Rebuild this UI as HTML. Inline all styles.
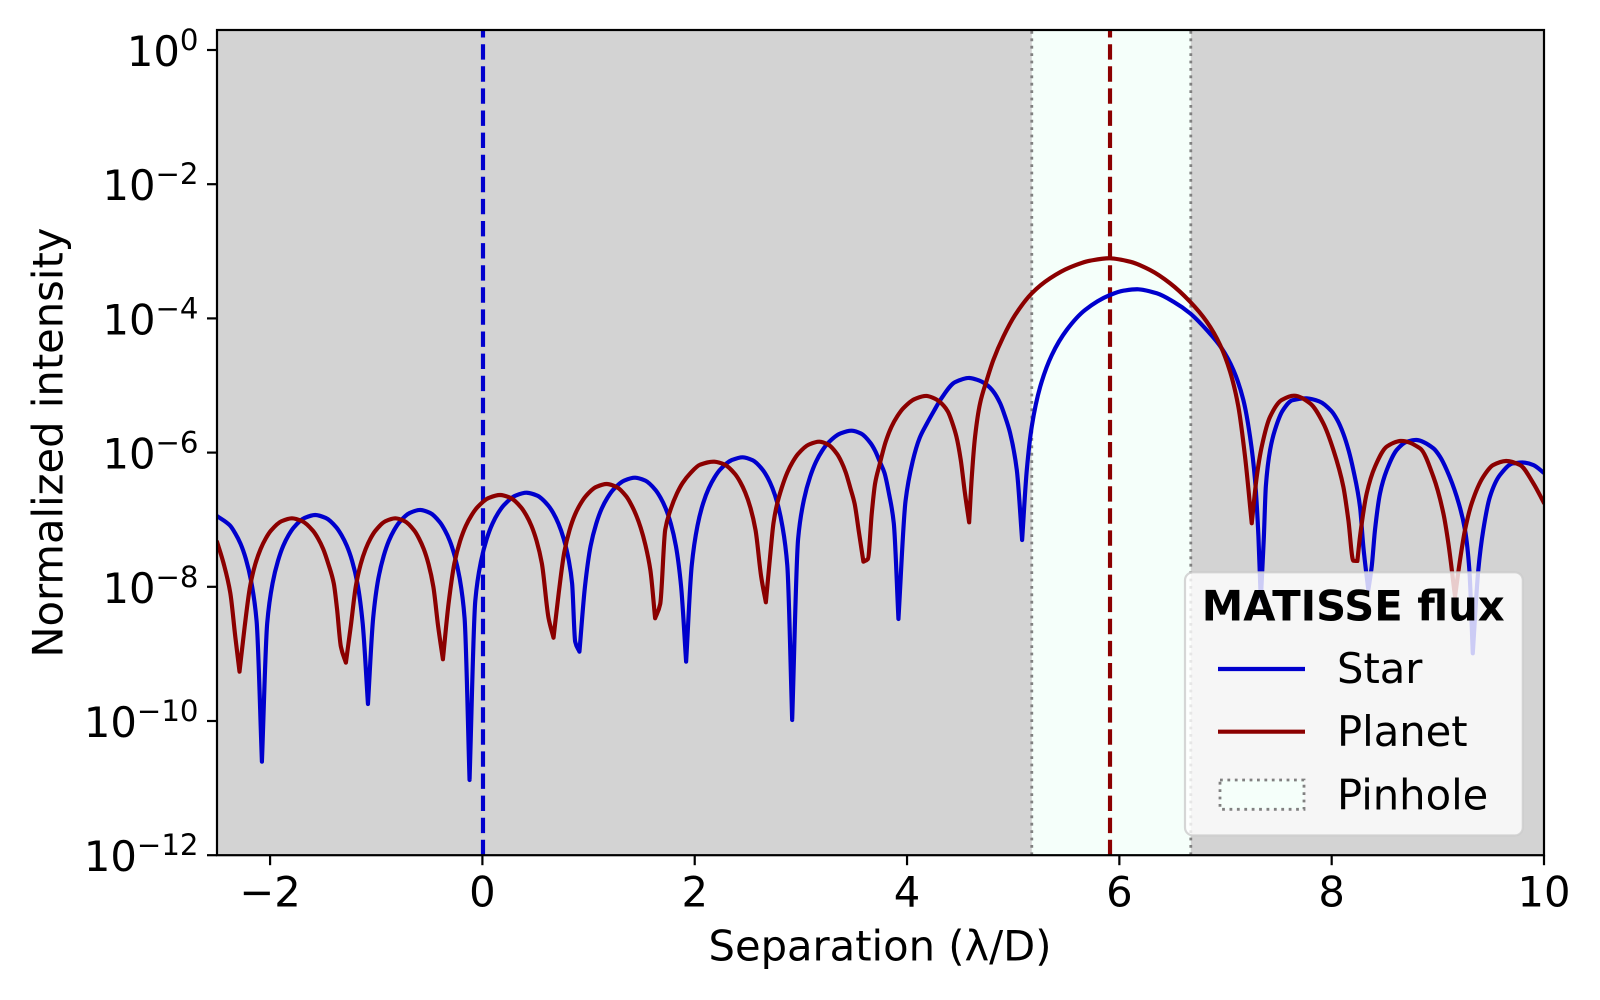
<!DOCTYPE html>
<html lang="en">
<head>
<meta charset="utf-8">
<title>MATISSE flux</title>
<style>
html,body{margin:0;padding:0;background:#fff}
svg{display:block}
text{font-family:"DejaVu Sans","Liberation Sans",sans-serif;fill:#000}
</style>
</head>
<body>
<svg id="chart" xmlns="http://www.w3.org/2000/svg" width="1600" height="1000" viewBox="0 0 1600 1000">
  <defs><clipPath id="plot-clip"><rect x="217" y="30" width="1327" height="825.2"></rect></clipPath></defs>
  <rect x="0" y="0" width="1600" height="1000" fill="#fff"></rect>
  <rect x="217" y="30" width="1327" height="825.2" fill="#d3d3d3"></rect>
  <g id="pinhole-layer" clip-path="url(#plot-clip)"></g>
  <g id="series-layer" clip-path="url(#plot-clip)"></g>
  <g id="axes-layer"></g>
  <text x="880" y="960.7" font-size="41.67" text-anchor="middle">Separation (λ/D)</text>
  <text transform="translate(62.3,442.6) rotate(-90)" font-size="41.67" text-anchor="middle">Normalized intensity</text>
  <g>
    <rect x="1185" y="572.3" width="337.8" height="263.2" rx="8" ry="8" fill="#fff" fill-opacity="0.8" stroke="#ccc" stroke-opacity="0.8" stroke-width="2.2"></rect>
    <text x="1353.2" y="620.7" font-size="41.67" font-weight="bold" text-anchor="middle">MATISSE flux</text>
    <line x1="1218" y1="669" x2="1305" y2="669" stroke="#0000cd" stroke-width="4.17"></line>
    <text x="1337" y="682.9" font-size="41.67">Star</text>
    <line x1="1218" y1="731.7" x2="1305" y2="731.7" stroke="#8b0000" stroke-width="4.17"></line>
    <text x="1337" y="746.2" font-size="41.67">Planet</text>
    <rect x="1220" y="780" width="84" height="29.3" fill="#f5fffa" stroke="#808080" stroke-width="2.8" stroke-dasharray="2.8 4.6"></rect>
    <text x="1337" y="809.4" font-size="41.67">Pinhole</text>
  </g>
</svg>
<script>
var xTicks = [-2, 0, 2, 4, 6, 8, 10];
var xTickLabels = ["\u22122", "0", "2", "4", "6", "8", "10"];
var yTickExponents = [0, -2, -4, -6, -8, -10, -12];
var yTickLabels = ["0", "\u22122", "\u22124", "\u22126", "\u22128", "\u221210", "\u221212"];
var xDomain = [-2.5, 10];
var logYDomain = [-12, 0];
var starPositionX = [0];
var planetPositionX = [5.912];
var pinholeRange = [5.175, 6.673];

var starX = [
  -2.5,-2.379,-2.329,-2.278,-2.228,-2.178,-2.127,-2.077,
  -2.027,-1.977,-1.926,-1.876,-1.826,-1.776,-1.675,-1.575,
  -1.476,-1.376,-1.327,-1.277,-1.227,-1.177,-1.128,-1.078,
  -1.029,-0.98,-0.93,-0.881,-0.832,-0.783,-0.684,-0.586,
  -0.493,-0.4,-0.354,-0.307,-0.261,-0.214,-0.168,-0.121,
  -0.067,-0.013,0.041,0.095,0.149,0.203,0.311,0.419,
  0.518,0.617,0.667,0.716,0.766,0.815,0.845,0.874,0.914,
  0.967,1.019,1.072,1.124,1.177,1.229,1.334,1.439,
  1.535,1.631,1.679,1.727,1.775,1.823,1.871,1.919,
  1.972,2.026,2.079,2.133,2.186,2.239,2.346,2.453,
  2.546,2.639,2.686,2.732,2.779,2.825,2.872,2.918,
  2.974,3.03,3.087,3.143,3.199,3.255,3.368,3.48,
  3.568,3.656,3.7,3.743,3.787,3.831,3.875,3.919,
  3.986,4.053,4.119,4.186,4.253,4.32,4.453,4.587,
  4.686,4.751,4.813,4.877,4.924,4.971,5.034,5.084,
  5.128,5.175,5.254,5.364,5.505,5.677,5.913,6.038,6.179,
  6.352,6.509,6.666,6.823,6.964,7.074,7.168,7.231,7.278,7.31,7.332,
  7.36,7.38,7.42,7.466,7.54,7.63,7.765,
  7.881,7.997,8.055,8.11,8.16,8.204,8.267,8.298,8.345,
  8.377,8.408,8.455,8.519,8.613,8.707,8.801,
  8.958,9.02,9.084,9.178,9.256,9.297,9.329,
  9.381,9.428,9.491,9.585,9.711,9.821,9.9,10
];
var starLogIntensity = [
  -6.945,-7.084,-7.201,-7.36,-7.586,-7.92,-8.51,-10.606,
  -8.54,-7.95,-7.616,-7.39,-7.231,-7.114,-6.974,-6.93,
  -6.974,-7.114,-7.231,-7.39,-7.616,-7.95,-8.54,-9.747,
  -8.465,-7.875,-7.541,-7.315,-7.156,-7.039,-6.899,-6.855,
  -6.899,-7.039,-7.156,-7.315,-7.541,-7.875,-8.465,-10.879,
  -8.208,-7.618,-7.284,-7.058,-6.899,-6.782,-6.642,-6.598,
  -6.642,-6.782,-6.899,-7.058,-7.284,-7.618,-7.95,-8.818,-8.967,
  -7.984,-7.394,-7.06,-6.834,-6.675,-6.558,-6.418,-6.374,
  -6.418,-6.558,-6.675,-6.834,-7.06,-7.394,-7.984,-9.116,
  -7.68,-7.09,-6.756,-6.53,-6.371,-6.254,-6.114,-6.07,
  -6.114,-6.254,-6.371,-6.53,-6.756,-7.09,-7.68,-9.985,
  -7.284,-6.694,-6.36,-6.134,-5.975,-5.858,-5.718,-5.674,
  -5.718,-5.858,-5.975,-6.134,-6.3,-6.62,-7.05,-8.48,
  -6.72,-6.13,-5.78,-5.57,-5.38,-5.2,-4.95,-4.888,
  -4.93,-4.99,-5.09,-5.265,-5.465,-5.71,-6.26,-7.303,
  -6.26,-5.61,-5.02,-4.545,-4.17,-3.875,-3.651,-3.587,-3.566,
  -3.626,-3.751,-3.924,-4.173,-4.446,-4.769,-5.216,-5.763,-6.408,-7.25,-8.2,
  -7.3,-6.5,-5.96,-5.66,-5.37,-5.22,-5.191,
  -5.235,-5.38,-5.52,-5.72,-5.97,-6.26,-6.81,-7.4,-8.048,
  -7.7,-7.153,-6.61,-6.26,-5.96,-5.838,-5.812,
  -5.936,-6.06,-6.26,-6.657,-7.153,-7.75,-8.991,
  -7.75,-7.153,-6.657,-6.334,-6.16,-6.15,-6.185,-6.304
];
var planetX = [
  -2.5,-2.438,-2.375,-2.328,-2.288,
  -2.239,-2.189,-2.14,-2.09,-2.041,-1.992,-1.893,-1.794,
  -1.696,-1.597,-1.548,-1.499,-1.45,-1.4,-1.37,-1.333,-1.286,
  -1.24,-1.193,-1.147,-1.1,-1.054,-1.007,-0.914,-0.821,
  -0.731,-0.641,-0.597,-0.552,-0.507,-0.462,-0.417,-0.372,
  -0.318,-0.264,-0.21,-0.156,-0.102,-0.048,0.06,0.168,
  0.266,0.364,0.413,0.462,0.511,0.56,0.623,0.67,
  0.72,0.771,0.821,0.871,0.922,0.972,1.072,1.173,
  1.264,1.355,1.4,1.445,1.491,1.536,1.582,1.627,1.675,
  1.722,1.768,1.832,1.887,1.957,2.051,2.186,
  2.283,2.38,2.428,2.476,2.525,2.573,2.626,2.67,
  2.71,2.742,2.771,2.82,2.872,2.923,2.973,3.074,3.175,
  3.258,3.341,3.382,3.423,3.465,3.506,3.548,3.589,3.631,
  3.668,3.699,3.742,3.798,3.853,3.909,3.964,4.075,4.186,
  4.266,4.345,4.385,4.425,4.465,4.505,4.545,4.585,
  4.61,4.641,4.688,4.751,4.813,4.908,5.018,5.175,5.348,5.536,5.724,5.913,
  6.101,6.289,6.478,6.666,6.823,6.949,7.043,7.121,7.184,7.247,
  7.294,7.341,7.42,7.53,7.645,
  7.796,7.921,8.016,8.11,8.157,8.204,8.242,
  8.267,8.33,8.408,8.519,8.644,
  8.832,8.958,9.052,9.099,9.162,
  9.209,9.256,9.319,9.428,9.522,9.642,
  9.774,9.9,10
];
var planetLogIntensity = [
  -7.328,-7.65,-8.09,-8.74,-9.265,
  -8.589,-7.999,-7.665,-7.439,-7.28,-7.163,-7.023,-6.979,
  -7.023,-7.163,-7.28,-7.439,-7.665,-7.95,-8.32,-8.893,-9.131,
  -8.589,-7.999,-7.665,-7.439,-7.28,-7.163,-7.023,-6.979,
  -7.023,-7.163,-7.28,-7.439,-7.665,-7.999,-8.589,-9.08,
  -8.242,-7.652,-7.318,-7.092,-6.933,-6.816,-6.676,-6.632,
  -6.676,-6.816,-6.933,-7.092,-7.318,-7.65,-8.465,-8.759,
  -8.078,-7.488,-7.154,-6.928,-6.769,-6.652,-6.512,-6.468,
  -6.512,-6.652,-6.769,-6.92,-7.12,-7.38,-7.75,-8.469,-8.256,
  -7.15,-6.87,-6.61,-6.45,-6.31,-6.18,-6.136,
  -6.18,-6.32,-6.437,-6.596,-6.822,-7.156,-7.849,-8.231,
  -7.55,-7.05,-6.8,-6.523,-6.297,-6.138,-6.021,-5.881,-5.837,
  -5.881,-6.021,-6.138,-6.297,-6.523,-6.76,-7.2,-7.626,-7.586,
  -6.9,-6.46,-6.176,-5.842,-5.616,-5.457,-5.34,-5.2,-5.156,
  -5.2,-5.3,-5.39,-5.55,-5.76,-6.1,-6.6,-7.039,
  -6.36,-5.76,-5.265,-4.92,-4.62,-4.27,-3.95,-3.626,-3.402,-3.239,-3.14,-3.104,
  -3.155,-3.279,-3.477,-3.751,-4.049,-4.396,-4.794,-5.316,-6.061,-7.054,
  -6.36,-5.912,-5.465,-5.216,-5.152,
  -5.265,-5.563,-5.96,-6.51,-7.004,-7.611,-7.615,
  -7.25,-6.607,-6.21,-5.91,-5.827,
  -5.936,-6.36,-6.905,-7.35,-8.147,
  -7.6,-7.153,-6.756,-6.36,-6.185,-6.125,
  -6.185,-6.458,-6.751
];

var SVG_NS = "http://www.w3.org/2000/svg";
var plotLeft = 217, plotRight = 1544, plotTop = 30, plotBottom = 855.2, yZero = 50;

function xScale(v) {
  return plotLeft + (v - xDomain[0]) / (xDomain[1] - xDomain[0]) * (plotRight - plotLeft);
}
function yScale(logValue) {
  return yZero + (logValue - logYDomain[1]) / (logYDomain[0] - logYDomain[1]) * (plotBottom - yZero);
}
function make(tag, attrs, parent) {
  var el = document.createElementNS(SVG_NS, tag);
  for (var k in attrs) { el.setAttribute(k, attrs[k]); }
  parent.appendChild(el);
  return el;
}
/* Smooth curve through the data points; nulls (local minima) stay as sharp cusps. */
function seriesPath(xs, ys) {
  var n = xs.length, px = [], py = [], h = [], d = [], mIn = [], mOut = [], i;
  for (i = 0; i < n; i++) { px.push(xScale(xs[i])); py.push(yScale(ys[i])); }
  for (i = 0; i < n - 1; i++) { h.push(px[i + 1] - px[i]); d.push((py[i + 1] - py[i]) / h[i]); }
  mOut[0] = d[0];
  mIn[n - 1] = d[n - 2];
  for (i = 1; i < n - 1; i++) {
    var a = d[i - 1], b = d[i], m;
    if (a > 0 && b < 0) { mIn[i] = a; mOut[i] = b; continue; }
    if (a * b > 0) {
      var w1 = 2 * h[i] + h[i - 1], w2 = h[i] + 2 * h[i - 1];
      m = (w1 + w2) / (w1 / a + w2 / b);
    } else {
      m = (a * h[i] + b * h[i - 1]) / (h[i - 1] + h[i]);
    }
    mIn[i] = m;
    mOut[i] = m;
  }
  var path = "M" + px[0].toFixed(2) + " " + py[0].toFixed(2);
  for (i = 0; i < n - 1; i++) {
    var t = h[i] / 3;
    path += "C" + (px[i] + t).toFixed(2) + " " + (py[i] + mOut[i] * t).toFixed(2) + " " +
      (px[i + 1] - t).toFixed(2) + " " + (py[i + 1] - mIn[i + 1] * t).toFixed(2) + " " +
      px[i + 1].toFixed(2) + " " + py[i + 1].toFixed(2);
  }
  return path;
}

var pinholeLayer = document.getElementById("pinhole-layer");
var seriesLayer = document.getElementById("series-layer");
var axesLayer = document.getElementById("axes-layer");

var pinholeFill = make("rect", {x: xScale(pinholeRange[0]), y: plotTop, width: xScale(pinholeRange[1]) - xScale(pinholeRange[0]), height: plotBottom - plotTop, fill: "#f5fffa"}, pinholeLayer);


pinholeRange.forEach(function (edge) {
  var edgeLine = make("line", {x1: xScale(edge), x2: xScale(edge), y1: plotBottom, y2: plotTop, stroke: "#808080", "stroke-width": 2.8, "stroke-dasharray": "2.8 4.6"}, pinholeLayer);
  
  
});

var starMarker = make("line", {x1: xScale(starPositionX[0]) + 0.6, x2: xScale(starPositionX[0]) + 0.6, y1: plotBottom, y2: plotTop, stroke: "#0000cd", "stroke-width": 4.17, "stroke-dasharray": "15.4 6.7"}, seriesLayer);


var planetMarker = make("line", {x1: xScale(planetPositionX[0]), x2: xScale(planetPositionX[0]), y1: plotBottom, y2: plotTop, stroke: "#8b0000", "stroke-width": 4.17, "stroke-dasharray": "15.4 6.7"}, seriesLayer);



var starLine = make("path", {d: seriesPath(starX, starLogIntensity), fill: "none", stroke: "#0000cd", "stroke-width": 4.17, "stroke-linejoin": "round", "stroke-linecap": "round"}, seriesLayer);


var planetLine = make("path", {d: seriesPath(planetX, planetLogIntensity), fill: "none", stroke: "#8b0000", "stroke-width": 4.17, "stroke-linejoin": "round", "stroke-linecap": "round"}, seriesLayer);



var frame = make("rect", {x: plotLeft, y: plotTop, width: plotRight - plotLeft, height: plotBottom - plotTop, fill: "none", stroke: "#000", "stroke-width": 2.2}, axesLayer);



xTicks.forEach(function (value, i) {
  var px = xScale(value);
  var tick = make("line", {x1: px, x2: px, y1: plotBottom, y2: plotBottom + 10, stroke: "#000", "stroke-width": 2.2}, axesLayer);
  
  
  var label = make("text", {x: px, y: 906.5, "font-size": 41.67, "text-anchor": "middle"}, axesLayer);
  
  
  label.textContent = xTickLabels[i];
});

yTickExponents.forEach(function (value, i) {
  var py = yScale(value);
  var tick = make("line", {x1: plotLeft - 10, x2: plotLeft, y1: py, y2: py, stroke: "#000", "stroke-width": 2.2}, axesLayer);
  
  
  var label = make("text", {x: 198.5, y: py + 16, "font-size": 41.67, "text-anchor": "end"}, axesLayer);
  
  
  label.appendChild(document.createTextNode("10"));
  var sup = make("tspan", {dy: -16, "font-size": 29.2}, label);
  sup.textContent = yTickLabels[i];
});
</script>
</body>
</html>
